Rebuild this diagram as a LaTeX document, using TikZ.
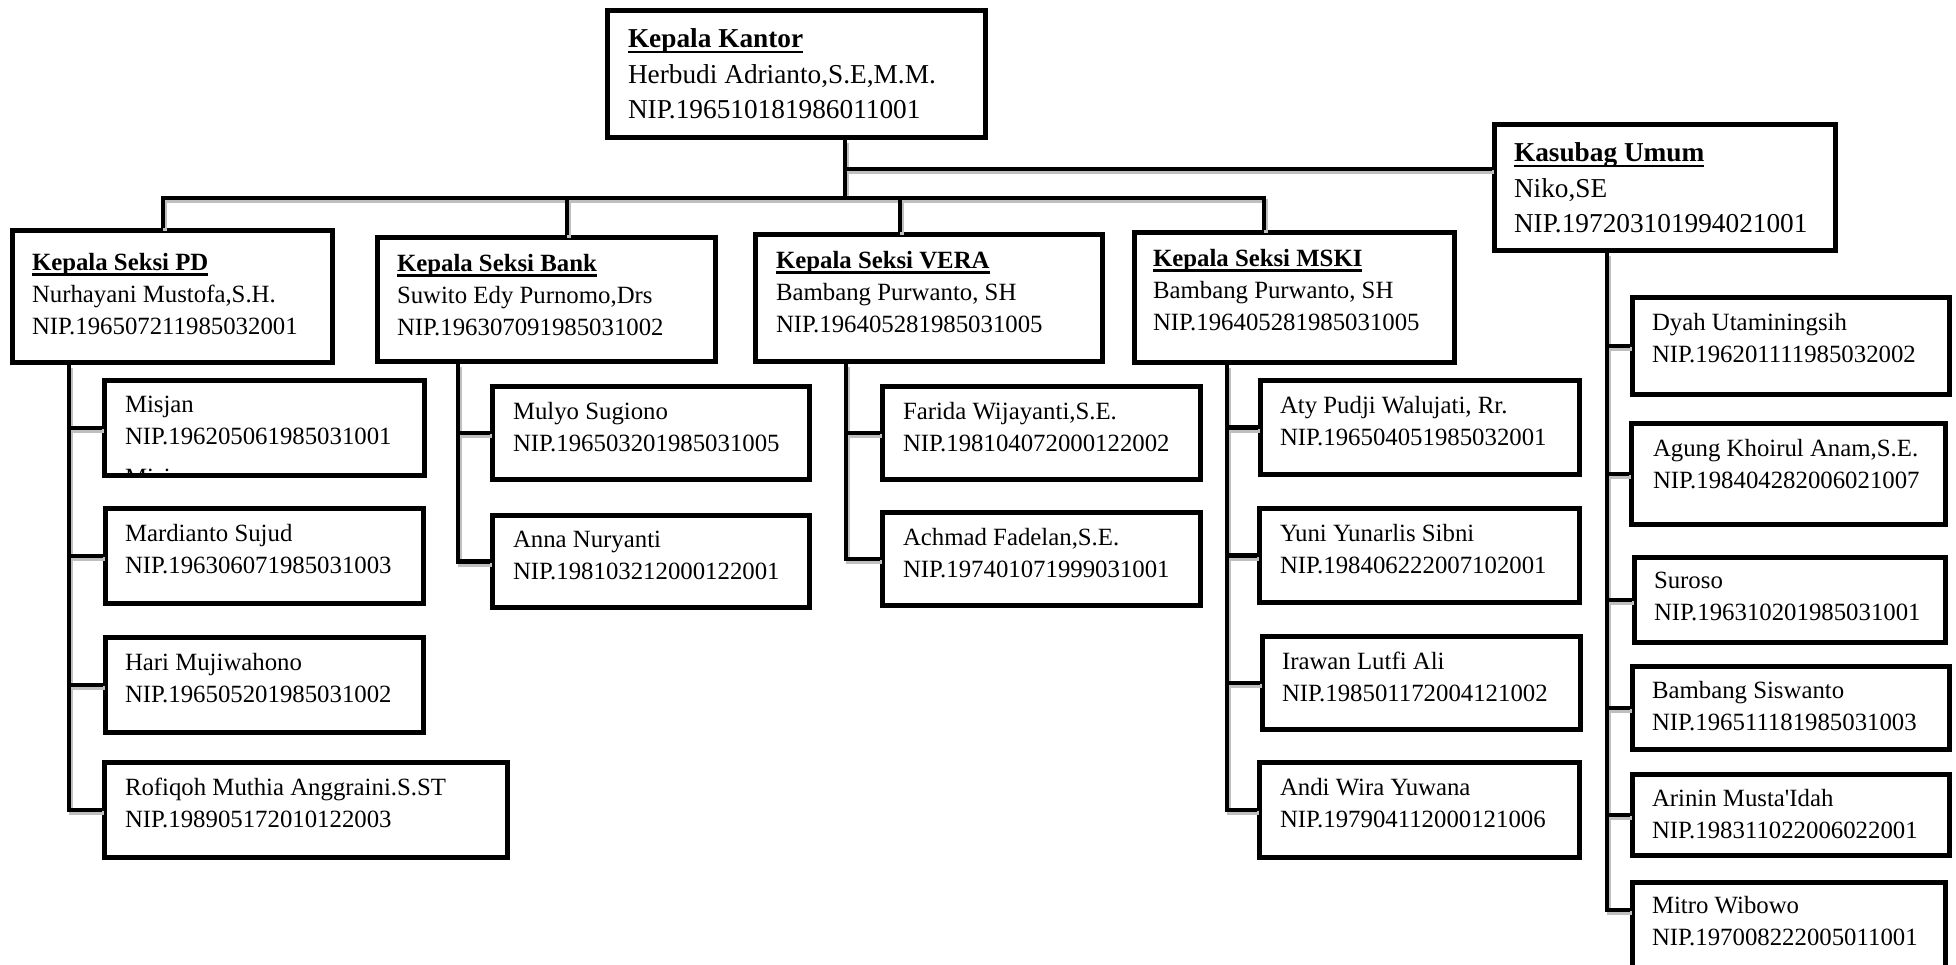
\documentclass[tikz,border=0pt]{standalone}
\usepackage{fontspec}
\setmainfont{Liberation Serif}
\newfontfamily\plainserif{Liberation Serif}
\usetikzlibrary{positioning}

\tikzset{
  unit/.style 2 args={draw, line width=5pt, anchor=north west, inner sep=0pt,
    minimum width=#1pt-5pt, minimum height=#2pt-5pt},
  bigtext/.style={inner sep=0pt, outer sep=0pt, align=left, font=\fontsize{27.3}{35.5}\selectfont},
  smalltext/.style={inner sep=0pt, outer sep=0pt, align=left, font=\fontsize{24.8}{32}\selectfont},
  link/.style={line width=4.5pt,
    preaction={draw, gray!50, line width=4pt, transform canvas={xshift=1.5pt,yshift=-3pt}}},
}
\newsavebox{\headbox}
\newcommand{\head}[1]{\sbox{\headbox}{\textbf{#1}}\usebox{\headbox}\llap{\rule[-5.5pt]{\wd\headbox}{2.4pt}}}

\begin{document}
\begin{tikzpicture}[x=1pt,y=-1pt]
\useasboundingbox (0,0) rectangle (1956,965);
\clip (0,0) rectangle (1956,965);

% top and section heads
\node[unit={383}{132}] (kantor) at (605,8) {};
\node[unit={346}{131}] (kasubag) at (1492,122) {};
\node[unit={325}{137}] (pd) at (10,228) {};
\node[unit={343}{129}] (bank) at (375,235) {};
\node[unit={352}{132}] (vera) at (753,232) {};
\node[unit={325}{135}] (mski) at (1132,230) {};

% staff PD
\node[unit={325}{100}] (misjan) at (102,378) {};
\node[unit={323}{100}] (mardianto) at (103,506) {};
\node[unit={323}{100}] (hari) at (103,635) {};
\node[unit={408}{100}] (rofiqoh) at (102,760) {};
% staff Bank
\node[unit={322}{98}] (mulyo) at (490,384) {};
\node[unit={322}{97}] (anna) at (490,513) {};
% staff VERA
\node[unit={323}{98}] (farida) at (880,384) {};
\node[unit={323}{98}] (achmad) at (880,510) {};
% staff MSKI
\node[unit={324}{99}] (aty) at (1258,378) {};
\node[unit={325}{99}] (yuni) at (1257,506) {};
\node[unit={323}{98}] (irawan) at (1260,634) {};
\node[unit={325}{100}] (andi) at (1257,760) {};
% staff Umum
\node[unit={322}{102}] (dyah) at (1630,295) {};
\node[unit={319}{106}] (agung) at (1629,421) {};
\node[unit={316}{90}] (suroso) at (1632,555) {};
\node[unit={322}{88}] (bambang) at (1630,664) {};
\node[unit={322}{86}] (arinin) at (1630,772) {};
\node[unit={318}{100}] (mitro) at (1630,880) {};

% texts
\node[bigtext, below right=21pt and 23pt of kantor.north west] (kantor-t) {\head{Kepala Kantor}\\Herbudi Adrianto,S.E,M.M.\\NIP.196510181986011001};
\node[bigtext, below right=21pt and 22pt of kasubag.north west] (kasubag-t) {\head{Kasubag Umum}\\Niko,SE\\NIP.197203101994021001};
\node[smalltext, below right=25pt and 22pt of pd.north west] (pd-t) {\head{Kepala Seksi PD}\\Nurhayani Mustofa,S.H.\\NIP.196507211985032001};
\node[smalltext, below right=19pt and 22pt of bank.north west] (bank-t) {\head{Kepala Seksi Bank}\\Suwito Edy Purnomo,Drs\\NIP.196307091985031002};
\node[smalltext, below right=19pt and 23pt of vera.north west] (vera-t) {\head{Kepala Seksi VERA}\\Bambang Purwanto, SH\\NIP.196405281985031005};
\node[smalltext, below right=19pt and 21pt of mski.north west] (mski-t) {\head{Kepala Seksi MSKI}\\Bambang Purwanto, SH\\NIP.196405281985031005};

\begin{scope}
  \clip ([shift={(5pt,-5pt)}]misjan.north west) rectangle ([shift={(-5pt,5pt)}]misjan.south east);
  \node[smalltext, below right=18pt and 23pt of misjan.north west] (misjan-t) {Misjan\\NIP.196205061985031001\\[9pt]Misjan};
\end{scope}
\node[smalltext, below right=18pt and 22pt of mardianto.north west] (mardianto-t) {Mardianto Sujud\\NIP.196306071985031003};
\node[smalltext, below right=18pt and 22pt of hari.north west] (hari-t) {Hari Mujiwahono\\NIP.196505201985031002};
\node[smalltext, below right=18pt and 23pt of rofiqoh.north west] (rofiqoh-t) {Rofiqoh Muthia Anggraini.S.ST\\NIP.198905172010122003};
\node[smalltext, below right=18pt and 23pt of mulyo.north west] (mulyo-t) {Mulyo Sugiono\\NIP.196503201985031005};
\node[smalltext, below right=18pt and 23pt of anna.north west] (anna-t) {Anna Nuryanti\\NIP.198103212000122001};
\node[smalltext, below right=18pt and 23pt of farida.north west] (farida-t) {Farida Wijayanti,S.E.\\NIP.198104072000122002};
\node[smalltext, below right=18pt and 23pt of achmad.north west] (achmad-t) {Achmad Fadelan,S.E.\\NIP.197401071999031001};
\node[smalltext, below right=18pt and 22pt of aty.north west] (aty-t) {Aty Pudji Walujati, Rr.\\NIP.196504051985032001};
\node[smalltext, below right=18pt and 23pt of yuni.north west] (yuni-t) {Yuni Yunarlis Sibni\\NIP.198406222007102001};
\node[smalltext, below right=18pt and 22pt of irawan.north west] (irawan-t) {Irawan Lutfi Ali\\NIP.198501172004121002};
\node[smalltext, below right=18pt and 23pt of andi.north west] (andi-t) {Andi Wira Yuwana\\NIP.197904112000121006};
\node[smalltext, below right=18pt and 22pt of dyah.north west] (dyah-t) {Dyah Utaminingsih\\NIP.196201111985032002};
\node[smalltext, below right=18pt and 24pt of agung.north west] (agung-t) {Agung Khoirul Anam,S.E.\\NIP.198404282006021007};
\node[smalltext, below right=17pt and 22pt of suroso.north west] (suroso-t) {Suroso\\NIP.196310201985031001};
\node[smalltext, below right=17pt and 22pt of bambang.north west] (bambang-t) {Bambang Siswanto\\NIP.196511181985031003};
\node[smalltext, below right=17pt and 22pt of arinin.north west] (arinin-t) {Arinin Musta{\plainserif '}Idah\\NIP.198311022006022001};
\node[smalltext, below right=16pt and 22pt of mitro.north west] (mitro-t) {Mitro Wibowo\\NIP.197008222005011001};

% connectors
\coordinate (bus) at (0,198);
\coordinate (kkdrop) at ([xshift=240pt]kantor.south west);
\coordinate (umum) at ([yshift=-47pt]kasubag.north west);
\coordinate (pddrop) at ([xshift=153pt]pd.north west);
\coordinate (bankdrop) at ([xshift=192pt]bank.north west);
\coordinate (veradrop) at ([xshift=147pt]vera.north west);
\coordinate (mskidrop) at ([xshift=132pt]mski.north west);
\draw[link] (kkdrop) -- (kkdrop |- bus);
\draw[link] (kkdrop |- umum) -- (umum);
\draw[link] (pddrop) |- (mskidrop |- bus) -- (mskidrop);
\foreach \d in {bankdrop,veradrop} \draw[link] (\d |- bus) -- (\d);

\draw[link] ([xshift=59pt]pd.south west) coordinate (pdbar) |- (rofiqoh.west);
\foreach \n in {misjan,mardianto,hari} \draw[link] (pdbar |- \n.west) -- (\n.west);
\draw[link] ([xshift=83pt]bank.south west) coordinate (bankbar) |- (anna.west);
\draw[link] (bankbar |- mulyo.west) -- (mulyo.west);
\draw[link] ([xshift=93pt]vera.south west) coordinate (verabar) |- (achmad.west);
\draw[link] (verabar |- farida.west) -- (farida.west);
\draw[link] ([xshift=95pt]mski.south west) coordinate (mskibar) |- (andi.west);
\foreach \n in {aty,yuni,irawan} \draw[link] (mskibar |- \n.west) -- (\n.west);
\draw[link] ([xshift=115pt]kasubag.south west) coordinate (umbar) |- ([yshift=-30pt]mitro.north west);
\foreach \n in {dyah,agung,suroso,bambang,arinin} \draw[link] (umbar |- \n.west) -- (\n.west);
\end{tikzpicture}
\end{document}
